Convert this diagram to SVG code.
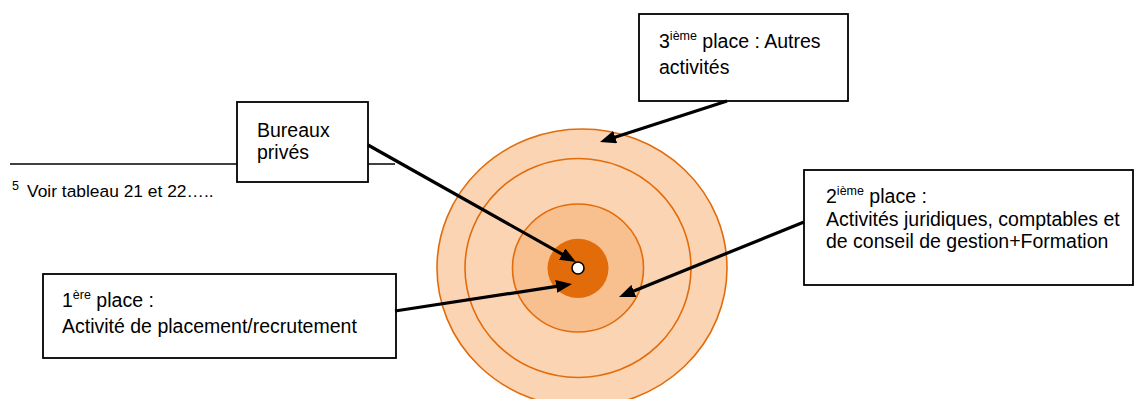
<svg xmlns="http://www.w3.org/2000/svg" width="1138" height="399" viewBox="0 0 1138 399">
<style>
.box{fill:#fff;stroke:#000;stroke-width:1.8}
.t{font-family:"Liberation Sans",Arial,sans-serif;font-size:19.5px;fill:#000}
.sup{font-size:12.5px}
.ring{stroke:#E36C0A;stroke-width:1.6}
.arrow{stroke:#000;stroke-width:3.2;fill:none;marker-end:url(#ah)}
</style>
<defs>
<marker id="ah" markerUnits="userSpaceOnUse" markerWidth="16" markerHeight="13" viewBox="0 0 16 13" refX="2" refY="6.5" orient="auto">
<path d="M0,0 L16,6.5 L0,13 z" fill="#000"/>
</marker>
</defs>
<rect width="1138" height="399" fill="#fff"/>
<g id="footnote">
<line x1="10" y1="164" x2="395" y2="164" stroke="#000" stroke-width="1.5"/>
<text class="t" x="12" y="190" style="font-size:12.5px">5</text>
<text class="t" x="27" y="197" style="font-size:17.4px">Voir tableau 21 et 22…..</text>
</g>
<g id="target">
<ellipse class="ring" cx="582" cy="268" rx="145" ry="139" fill="#FBD4B4"/>
<ellipse class="ring" cx="578" cy="268" rx="113" ry="109.5" fill="#FBD4B4"/>
<ellipse class="ring" cx="578" cy="268" rx="65.5" ry="64" fill="#F8BF8F"/>
<ellipse cx="578" cy="268.3" rx="30.5" ry="29.6" fill="#E36C0A"/>
<circle cx="578" cy="268" r="6" fill="#fff" stroke="#000" stroke-width="1.6"/>
</g>
<g id="node-bureaux">
<rect class="box" x="237" y="102" width="131" height="80"/>
<text class="t" x="257" y="137">Bureaux</text>
<text class="t" x="257" y="159">privés</text>
</g>
<g id="node-3">
<rect class="box" x="639" y="14" width="209" height="87"/>
<text class="t" x="659" y="47.7">3<tspan class="sup" dy="-8">ième</tspan><tspan dy="8"> place : Autres</tspan></text>
<text class="t" x="659" y="73.5">activités</text>
</g>
<g id="node-2">
<rect class="box" x="804" y="170" width="329" height="115"/>
<text class="t" x="826" y="203">2<tspan class="sup" dy="-8">ième</tspan><tspan dy="8"> place :</tspan></text>
<text class="t" x="826" y="225.5">Activités juridiques, comptables et</text>
<text class="t" x="826" y="247.5">de conseil de gestion+Formation</text>
</g>
<g id="node-1">
<rect class="box" x="43" y="274" width="353" height="84"/>
<text class="t" x="62" y="306.7">1<tspan class="sup" dy="-8">ère</tspan><tspan dy="8"> place :</tspan></text>
<text class="t" x="62" y="333.3">Activité de placement/recrutement</text>
</g>
<g id="connectors">
<line class="arrow" x1="368" y1="145" x2="563.8" y2="255.1"/>
<line class="arrow" x1="727" y1="101" x2="613.3" y2="137.7"/>
<line class="arrow" x1="395" y1="311" x2="558.2" y2="286.1"/>
<line class="arrow" x1="804" y1="222" x2="632" y2="291.7"/>
</g>
</svg>
